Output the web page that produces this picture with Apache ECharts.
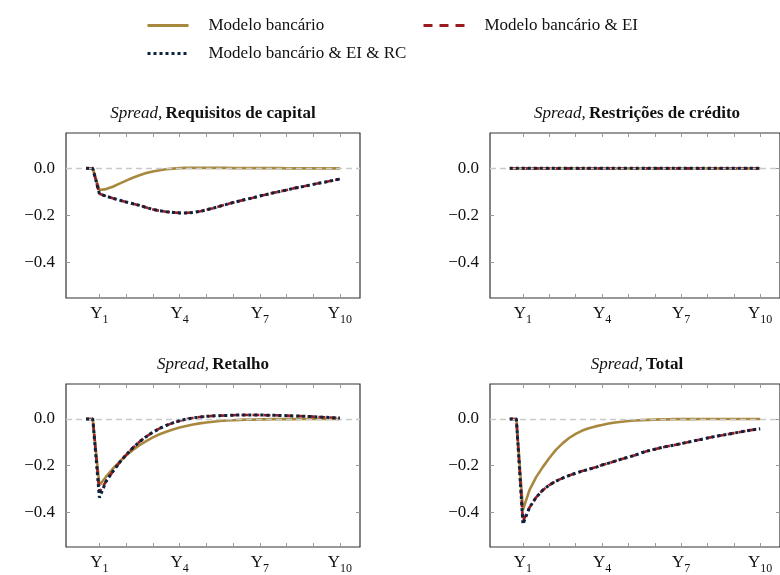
<!DOCTYPE html>
<html><head><meta charset="utf-8">
<script src="https://cdn.jsdelivr.net/npm/echarts@6/dist/echarts.min.js"></script>
<style>html,body{margin:0;padding:0;background:#fff}#c{width:780px;height:575px}</style>
</head><body><div id="c"></div>
<script>
// ---- data ----
const quarters = [0.5,0.75,1,1.25,1.5,1.75,2,2.25,2.5,2.75,3,3.25,3.5,3.75,4,4.25,4.5,4.75,5,5.25,5.5,5.75,6,6.25,6.5,6.75,7,7.25,7.5,7.75,8,8.25,8.5,8.75,9,9.25,9.5,9.75,10];
const xTickYears = [1,2,3,4,5,6,7,8,9,10];
const xLabelYears = [1,4,7,10];
const yTickValues = [-0.4,-0.2,0];
const seriesNames = ['Modelo bancário','Modelo bancário & EI','Modelo bancário & EI & RC'];
const panelTitles = ['Requisitos de capital','Restrições de crédito','Retalho','Total'];

const capBase = [0,0,-0.092,-0.088,-0.078,-0.065,-0.052,-0.040,-0.029,-0.020,-0.013,-0.008,-0.004,-0.001,0.001,0.002,0.002,0.002,0.002,0.002,0.002,0.002,0.001,0.001,0.001,0.001,0.001,0.001,0.001,0.001,0,0,0,0,0,0,0,0,0];
const capEI = [0,0,-0.108,-0.118,-0.127,-0.135,-0.143,-0.150,-0.157,-0.166,-0.174,-0.180,-0.184,-0.187,-0.189,-0.189,-0.187,-0.183,-0.176,-0.169,-0.161,-0.153,-0.145,-0.138,-0.131,-0.125,-0.117,-0.111,-0.104,-0.098,-0.092,-0.085,-0.080,-0.074,-0.068,-0.062,-0.057,-0.051,-0.045];
const capRC = [0,0,-0.108,-0.118,-0.127,-0.135,-0.143,-0.150,-0.157,-0.166,-0.174,-0.180,-0.184,-0.187,-0.189,-0.189,-0.187,-0.183,-0.176,-0.169,-0.161,-0.153,-0.145,-0.138,-0.131,-0.125,-0.117,-0.111,-0.104,-0.098,-0.092,-0.085,-0.080,-0.074,-0.068,-0.062,-0.057,-0.051,-0.045];

const credBase = [0,0,0,0,0,0,0,0,0,0,0,0,0,0,0,0,0,0,0,0,0,0,0,0,0,0,0,0,0,0,0,0,0,0,0,0,0,0,0];
const credEI = [0,0,0,0,0,0,0,0,0,0,0,0,0,0,0,0,0,0,0,0,0,0,0,0,0,0,0,0,0,0,0,0,0,0,0,0,0,0,0];
const credRC = [0,0,0,0,0,0,0,0,0,0,0,0,0,0,0,0,0,0,0,0,0,0,0,0,0,0,0,0,0,0,0,0,0,0,0,0,0,0,0];

const retBase = [0,0,-0.285,-0.248,-0.214,-0.184,-0.157,-0.133,-0.113,-0.095,-0.079,-0.066,-0.055,-0.045,-0.037,-0.030,-0.024,-0.019,-0.015,-0.012,-0.009,-0.007,-0.006,-0.004,-0.003,-0.003,-0.002,-0.002,-0.001,-0.001,-0.001,-0.001,0,0,0,0,0,0,0];
const retEI = [0,0,-0.315,-0.268,-0.226,-0.188,-0.154,-0.124,-0.098,-0.076,-0.057,-0.041,-0.028,-0.017,-0.008,-0.001,0.004,0.008,0.011,0.013,0.014,0.015,0.016,0.017,0.017,0.017,0.017,0.016,0.016,0.015,0.014,0.013,0.012,0.011,0.010,0.008,0.007,0.005,0.004];
const retRC = [0,0,-0.338,-0.268,-0.226,-0.188,-0.154,-0.124,-0.098,-0.076,-0.057,-0.041,-0.028,-0.017,-0.008,-0.001,0.004,0.008,0.011,0.013,0.014,0.015,0.016,0.017,0.017,0.017,0.017,0.016,0.016,0.015,0.014,0.013,0.012,0.011,0.010,0.008,0.007,0.005,0.004];

const totBase = [0,0,-0.390,-0.305,-0.250,-0.207,-0.168,-0.133,-0.105,-0.082,-0.064,-0.050,-0.040,-0.032,-0.026,-0.020,-0.015,-0.012,-0.009,-0.007,-0.005,-0.004,-0.003,-0.002,-0.002,-0.001,-0.001,-0.001,-0.001,0,0,0,0,0,0,0,0,0,0];
const totEI = [0,0,-0.440,-0.380,-0.337,-0.306,-0.284,-0.267,-0.254,-0.243,-0.233,-0.224,-0.216,-0.208,-0.198,-0.190,-0.181,-0.172,-0.164,-0.156,-0.145,-0.137,-0.130,-0.123,-0.117,-0.112,-0.106,-0.100,-0.094,-0.088,-0.082,-0.076,-0.071,-0.066,-0.061,-0.056,-0.051,-0.046,-0.042];
const totRC = [0,0,-0.452,-0.380,-0.337,-0.306,-0.284,-0.267,-0.254,-0.243,-0.233,-0.224,-0.216,-0.208,-0.198,-0.190,-0.181,-0.172,-0.164,-0.156,-0.145,-0.137,-0.130,-0.123,-0.117,-0.112,-0.106,-0.100,-0.094,-0.088,-0.082,-0.076,-0.071,-0.066,-0.061,-0.056,-0.051,-0.046,-0.042];

const panelData = [[capBase,capEI,capRC],[credBase,credEI,credRC],[retBase,retEI,retRC],[totBase,totEI,totRC]];

// ---- styling ----
const FONT = 'Liberation Serif';
const COLORS = ['#a8883f','#9b1c20','#0c2340'];
const LINE_TYPES = ['solid',[7,4],[3,3]];
const LINE_WIDTHS = [2.6,2.6,3];
const grids = [
  {left:66, top:133, width:294, height:165},
  {left:490, top:133, width:294, height:165},
  {left:66, top:384, width:294, height:166},
  {left:490, top:384, width:294, height:166}
];
const titlePos = [[213,114],[637,114],[213,365],[637,365]];

const xAxes = [], yAxes = [], series = [], graphics = [];
grids.forEach((g, i) => {
  const tickStyle = {show:true, inside:true, length:4, lineStyle:{color:'#999', width:1}};
  const noLine = {show:false, onZero:false};
  xAxes.push({gridIndex:i, type:'value', min:-0.25, max:10.75, position:'bottom',
    axisLine:noLine, splitLine:{show:false},
    axisTick:Object.assign({customValues:xTickYears}, tickStyle),
    axisLabel:{customValues:xLabelYears, margin:4, color:'#111', fontFamily:FONT, fontSize:17,
      formatter:v => 'Y{s|' + v + '}',
      rich:{s:{fontSize:12, fontFamily:FONT, color:'#111', padding:[12,0,0,0]}}}});
  xAxes.push({gridIndex:i, type:'value', min:-0.25, max:10.75, position:'top',
    axisLine:noLine, splitLine:{show:false},
    axisTick:Object.assign({customValues:xTickYears}, tickStyle), axisLabel:{show:false}});
  yAxes.push({gridIndex:i, type:'value', min:-0.55, max:0.15, position:'left',
    axisLine:noLine, splitLine:{show:false},
    axisTick:Object.assign({customValues:yTickValues}, tickStyle),
    axisLabel:{customValues:yTickValues, margin:11, color:'#111', fontFamily:FONT, fontSize:17,
      formatter:v => (v < 0 ? '\u2212' : '') + Math.abs(v).toFixed(1)}});
  yAxes.push({gridIndex:i, type:'value', min:-0.55, max:0.15, position:'right',
    axisLine:noLine, splitLine:{show:false},
    axisTick:Object.assign({customValues:yTickValues}, tickStyle), axisLabel:{show:false}});
  // zero reference line
  series.push({type:'line', xAxisIndex:2*i, yAxisIndex:2*i, data:[], z:1, silent:true,
    markLine:{silent:true, symbol:'none', animation:false, label:{show:false},
      lineStyle:{type:[6,4], color:'#c9c9c9', width:1.3}, data:[{yAxis:0}]}});
  panelData[i].forEach((arr, k) => {
    series.push({name:seriesNames[k], type:'line', xAxisIndex:2*i, yAxisIndex:2*i,
      data:quarters.map((q, j) => [q, arr[j]]), symbol:'none', z:3+k,
      lineStyle:{color:COLORS[k], width:LINE_WIDTHS[k], type:LINE_TYPES[k], cap:'butt'},
      itemStyle:{color:COLORS[k]}});
  });
  graphics.push({type:'text', x:titlePos[i][0], y:titlePos[i][1],
    style:{text:'{i|Spread,} {b|' + panelTitles[i] + '}', align:'center', verticalAlign:'middle',
      rich:{i:{fontStyle:'italic', fontFamily:FONT, fontSize:17, fill:'#111'},
            b:{fontWeight:'bold', fontFamily:FONT, fontSize:17, fill:'#111'}}}});
});

const legendText = {fontFamily:FONT, fontSize:17, color:'#111', padding:[0,0,0,15]};
const hiddenSymbol = {opacity:0, borderWidth:0};
const option = {
  animation:false,
  backgroundColor:'#fff',
  grid:grids.map(g => Object.assign({show:true, borderColor:'#333', borderWidth:1.2, backgroundColor:'transparent'}, g)),
  xAxis:xAxes, yAxis:yAxes, series:series, graphic:graphics,
  legend:[
    {data:[seriesNames[0]], left:141, top:12, itemWidth:41, itemHeight:14, textStyle:legendText,
      itemStyle:hiddenSymbol, lineStyle:{width:3, type:'solid'}},
    {data:[seriesNames[1]], left:417, top:12, itemWidth:41, itemHeight:14, textStyle:legendText,
      itemStyle:hiddenSymbol, lineStyle:{width:3, type:[9,7]}},
    {data:[seriesNames[2]], left:141, top:40, itemWidth:41, itemHeight:14, textStyle:legendText,
      itemStyle:hiddenSymbol, lineStyle:{width:3, type:[3,3]}}
  ]
};
const chart = echarts.init(document.getElementById('c'), null, {renderer:'canvas'});
chart.setOption(option);
</script>
</body></html>
